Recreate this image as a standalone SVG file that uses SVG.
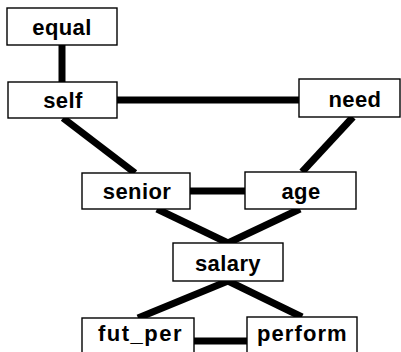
<svg xmlns="http://www.w3.org/2000/svg" width="401" height="352" viewBox="0 0 401 352">
<style>
.box{fill:#fff;stroke:#000;stroke-width:1.4}
.lbl{font-family:"Liberation Sans",Arial,sans-serif;font-weight:bold;font-size:22px;letter-spacing:0.4px;text-anchor:middle;fill:#000}
.edge{stroke:#000;stroke-width:7;fill:none;stroke-linecap:butt}
</style>
<rect width="401" height="352" fill="#fff"/>
<g id="connectors">
<line class="edge" x1="62" y1="45" x2="62" y2="82"/>
<line class="edge" x1="117" y1="100" x2="299" y2="100"/>
<line class="edge" x1="63" y1="118" x2="135" y2="173"/>
<line class="edge" x1="353" y1="117" x2="302" y2="172"/>
<line class="edge" x1="190" y1="191" x2="245" y2="191"/>
<line class="edge" x1="157" y1="209" x2="228" y2="243"/>
<line class="edge" x1="300" y1="209" x2="228" y2="243"/>
<line class="edge" x1="228" y1="281" x2="138" y2="318"/>
<line class="edge" x1="228" y1="281" x2="302" y2="317"/>
<line class="edge" x1="194" y1="341" x2="247" y2="341"/>
</g>
<g id="equal"><rect class="box" x="7" y="8" width="110" height="37"/><text class="lbl" x="62" y="35">equal</text></g>
<g id="self"><rect class="box" x="8" y="82" width="109" height="36"/><text class="lbl" x="63" y="108">self</text></g>
<g id="need"><rect class="box" x="299" y="79" width="101" height="38"/><text class="lbl" x="355" y="107">need</text></g>
<g id="senior"><rect class="box" x="82" y="173" width="108" height="36"/><text class="lbl" x="137" y="199">senior</text></g>
<g id="age"><rect class="box" x="245" y="172" width="111" height="37"/><text class="lbl" x="301" y="199">age</text></g>
<g id="salary"><rect class="box" x="173" y="243" width="110" height="38"/><text class="lbl" x="228" y="271">salary</text></g>
<g id="fut_per"><rect class="box" x="82" y="318" width="112" height="37"/><text class="lbl" x="140" y="341" textLength="84" lengthAdjust="spacing">fut_per</text></g>
<g id="perform"><rect class="box" x="247" y="317" width="110" height="38"/><text class="lbl" x="302" y="341" textLength="90" lengthAdjust="spacing">perform</text></g>
</svg>
